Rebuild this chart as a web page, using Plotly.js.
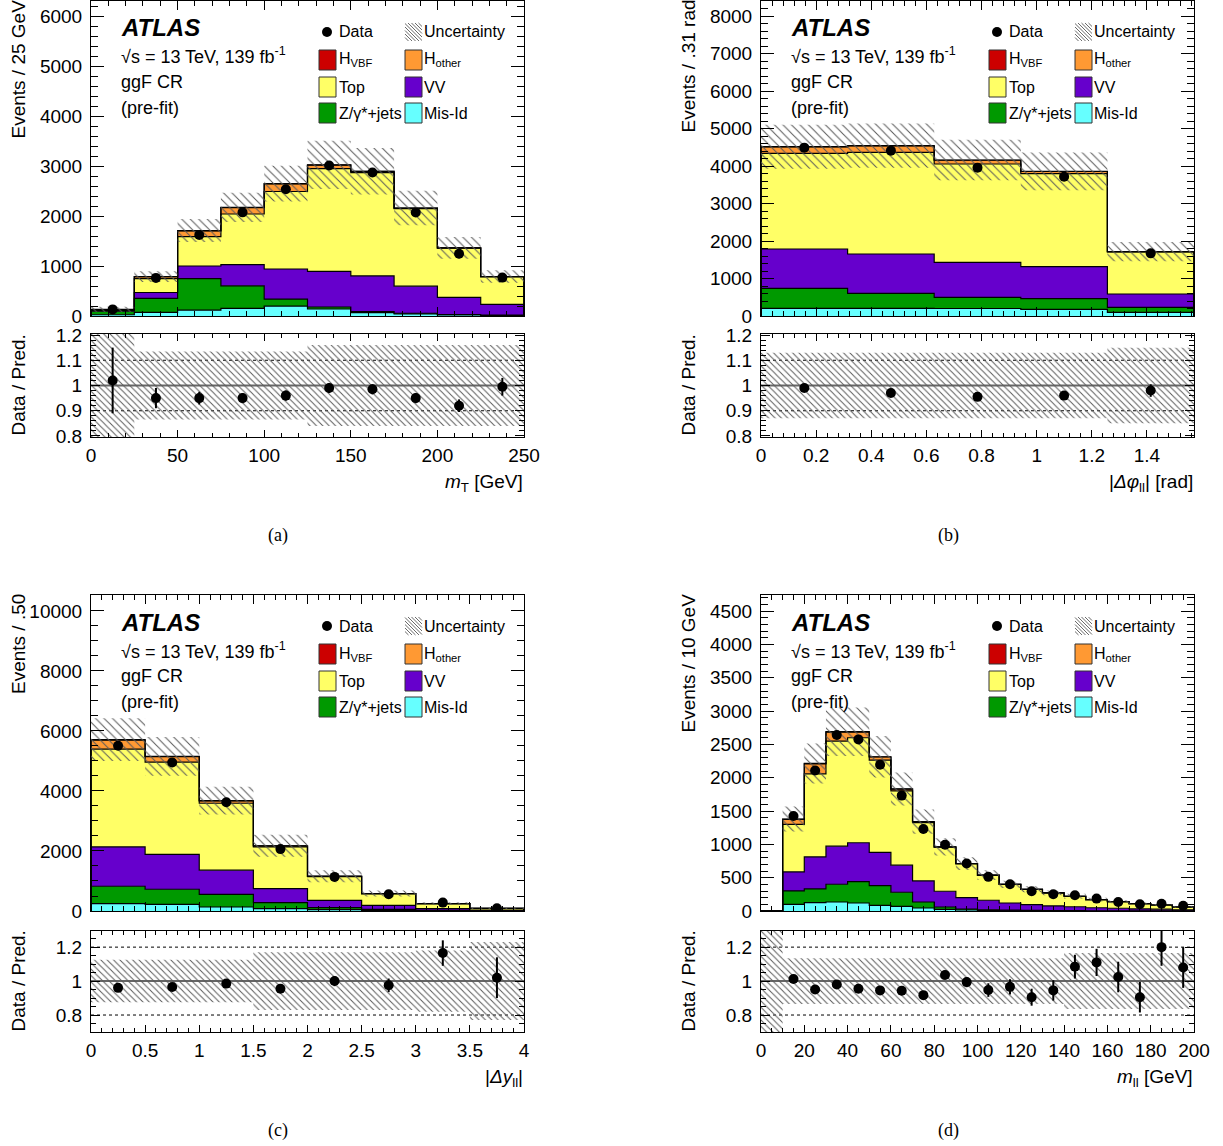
<!DOCTYPE html>
<html><head><meta charset="utf-8">
<script src="https://cdn.plot.ly/plotly-3.0.1.min.js"></script>
<style>html,body{margin:0;padding:0;background:#fff;} #plot{width:1223px;height:1146px;}</style>
</head><body><div id="plot"></div>
<script>
// ---------- Panel (a): mT ----------
const edgesA = [0,25,50,75,100,125,150,175,200,225,250];
const misIdA = [25,73,119,152,199,140,66,40,20,12];
const zjetsA = [70,278,629,451,139,40,20,15,10,8];
const vvA = [15,119,252,423,602,714,715,541,341,212];
const topA = [15,278,589,1014,1550,2053,2066,1550,985,553];
const hOtherA = [5,38,115,127,152,70,25,12,6,3];
const hVbfA = [1,3,5,5,7,6,3,2,2,1];
const dataA = [132,762,1620,2073,2536,3010,2870,2070,1245,768];
const ratioA = [1.02,0.95,0.95,0.95,0.96,0.99,0.985,0.95,0.92,0.995];
const ratioErrA = [0.13,0.04,0.025,0.02,0.02,0.02,0.02,0.02,0.025,0.035];
const uncA = [0.4,0.135,0.135,0.135,0.135,0.16,0.16,0.16,0.16,0.16];

// ---------- Panel (b): |dphi_ll| ----------
const edgesB = [0,0.31416,0.62832,0.94248,1.25664,1.5708];
const misIdB = [204,204,200,178,98];
const zjetsB = [534,400,298,284,133];
const vvB = [1049,1049,933,854,356];
const topB = [2551,2711,2622,2480,1120];
const hOtherB = [170,170,100,57,8];
const hVbfB = [8,8,7,5,1];
const dataB = [4489,4409,3956,3716,1671];
const ratioB = [0.99,0.97,0.955,0.96,0.98];
const ratioErrB = [0.012,0.012,0.013,0.014,0.025];
const uncB = [0.13,0.13,0.13,0.13,0.15];

// ---------- Panel (c): |dy_ll| ----------
const edgesC = [0,0.5,1,1.5,2,2.5,3,3.5,4];
const misIdC = [245,223,134,78,45,20,8,3];
const zjetsC = [580,502,423,201,66,36,12,5];
const vvC = [1315,1159,803,468,246,134,58,22];
const topC = [3256,3077,2230,1390,790,386,165,55];
const hOtherC = [300,180,83,35,10,4,2,1];
const hVbfC = [12,10,6,2,2,1,0,0];
const dataC = [5507,4950,3623,2062,1137,557,280,88];
const ratioC = [0.96,0.965,0.985,0.955,1.0,0.975,1.165,1.02];
const ratioErrC = [0.015,0.015,0.018,0.02,0.03,0.04,0.075,0.12];
const uncC = [0.125,0.125,0.125,0.17,0.17,0.17,0.18,0.23];

// ---------- Panel (d): m_ll ----------
const edgesD = [0,10,20,30,40,50,60,70,80,90,100,110,120,130,140,150,160,170,180,190,200];
const misIdD = [0,100,125,135,120,85,70,45,25,15,10,8,6,5,4,3,3,2,2,1];
const zjetsD = [0,201,206,266,322,296,211,90,35,15,8,5,3,2,2,1,1,1,1,1];
const vvD = [0,286,482,572,582,497,406,317,236,171,143,107,86,70,58,45,37,29,24,16];
const topD = [0,713,1244,1576,1575,1384,1114,873,660,508,374,280,230,194,157,122,99,78,63,42];
const hOtherD = [0,75,150,135,85,48,27,13,6,3,2,1,1,0,0,0,0,0,0,0];
const hVbfD = [0,5,6,6,6,4,3,2,1,0,0,0,0,0,0,0,0,0,0,0];
const dataD = [null,1425,2107,2640,2574,2193,1731,1229,993,712,512,401,296,251,236,186,135,100,110,80];
const ratioD = [null,1.012,0.95,0.98,0.955,0.945,0.943,0.917,1.036,0.994,0.947,0.966,0.905,0.945,1.085,1.11,1.024,0.905,1.2,1.08];
const ratioErrD = [0,0.02,0.02,0.02,0.02,0.02,0.02,0.02,0.025,0.03,0.04,0.045,0.05,0.06,0.07,0.08,0.09,0.09,0.11,0.12];
const uncD = [1.0,0.135,0.135,0.135,0.135,0.135,0.135,0.135,0.135,0.135,0.135,0.135,0.135,0.135,0.165,0.165,0.165,0.165,0.165,0.165];

// ---------- Text ----------
const yTitles = ['Events / 25 GeV','Events / .31 rad','Events / .50','Events / 10 GeV'];
const xTitles = ['<i>m</i><sub>T</sub> [GeV]','|<i>Δφ</i><sub>ll</sub>| [rad]','|<i>Δy</i><sub>ll</sub>|','<i>m</i><sub>ll</sub> [GeV]'];
const panelLabels = ['(a)','(b)','(c)','(d)'];
const compNames = ['Mis-Id','Z/γ*+jets','VV','Top','H<sub>other</sub>','H<sub>VBF</sub>'];
const compColors = ['#66ffff','#009900','#6600cc','#ffff66','#ff9933','#cc0000'];

// ---------- Geometry ----------
const W = 1223, H = 1146;
const PX = x => x / W, PY = y => 1 - y / H;
const FONT = 'Liberation Sans, Arial, Helvetica, sans-serif';

const panels = [
  {edges:edgesA, comps:[misIdA,zjetsA,vvA,topA,hOtherA,hVbfA], data:dataA, ratio:ratioA, rerr:ratioErrA, unc:uncA,
   ox:0, oy:0, xl:91, xr:524, mt:1, mb:316, rt:334, rb:437, yMax:6300, dty:1000, mty:200, dtx:50, mtx:10, rRange:[0.796,1.204], rDt:0.1, rMt:0.02, dots:[1.1,0.9]},
  {edges:edgesB, comps:[misIdB,zjetsB,vvB,topB,hOtherB,hVbfB], data:dataB, ratio:ratioB, rerr:ratioErrB, unc:uncB,
   ox:670, oy:0, xl:761, xr:1194, mt:1, mb:316, rt:334, rb:437, yMax:8400, dty:1000, mty:200, dtx:0.2, mtx:0.04, rRange:[0.796,1.204], rDt:0.1, rMt:0.02, dots:[1.1,0.9]},
  {edges:edgesC, comps:[misIdC,zjetsC,vvC,topC,hOtherC,hVbfC], data:dataC, ratio:ratioC, rerr:ratioErrC, unc:uncC,
   ox:0, oy:594, xl:91, xr:524, mt:595, mb:911, rt:931, rb:1032, yMax:10530, dty:2000, mty:500, dtx:0.5, mtx:0.1, rRange:[0.7,1.295], rDt:0.2, rMt:0.05, dots:[1.2,0.8]},
  {edges:edgesD, comps:[misIdD,zjetsD,vvD,topD,hOtherD,hVbfD], data:dataD, ratio:ratioD, rerr:ratioErrD, unc:uncD,
   ox:670, oy:594, xl:761, xr:1194, mt:595, mb:911, rt:931, rb:1032, yMax:4740, dty:500, mty:100, dtx:20, mtx:5, rRange:[0.7,1.295], rDt:0.2, rMt:0.05, dots:[1.2,0.8]}
];

const traces = [];
const layout = {
  width: W, height: H, margin:{l:0,r:0,t:0,b:0}, paper_bgcolor:'white', plot_bgcolor:'rgba(0,0,0,0)',
  showlegend:false, font:{family:FONT, size:19, color:'black'}, annotations:[], shapes:[]
};

const axBase = {showline:true, linecolor:'black', linewidth:1, mirror:'allticks', ticks:'inside', tickcolor:'black', tickwidth:1,
  showgrid:false, zeroline:false, tickfont:{family:FONT, size:19, color:'black'}, fixedrange:true};

function stepXY(edges, vals, closeZero) {
  const n = vals.length;
  if (closeZero) {
    return {x:[edges[0], ...edges.slice(0,n), edges[n], edges[n]], y:[0, ...vals, vals[n-1], 0]};
  }
  return {x:[...edges], y:[...vals, vals[n-1]]};
}

panels.forEach((p, k) => {
  const i = k*2 + 1;
  const xm = i===1 ? 'x' : 'x'+i, ym = i===1 ? 'y' : 'y'+i;
  const xr = 'x'+(i+1), yr = 'y'+(i+1);
  const n = p.edges.length - 1;
  const centers = p.edges.slice(0,n).map((e,j) => (e + p.edges[j+1]) / 2);

  // stacked backgrounds
  let cum = new Array(n).fill(0);
  p.comps.forEach((c, ci) => {
    cum = cum.map((v,j) => v + c[j]);
    const s = stepXY(p.edges, cum, true);
    traces.push({type:'scatter', mode:'lines', x:s.x, y:s.y, xaxis:xm, yaxis:ym,
      line:{color:'black', width:1.2, shape:'hv'}, fill: ci===0 ? 'tozeroy' : 'tonexty',
      fillcolor: compColors[ci], hoverinfo:'skip'});
  });
  const total = cum;
  // uncertainty band (main)
  const lo = stepXY(p.edges, total.map((t,j) => t*(1-p.unc[j])), false);
  const hi = stepXY(p.edges, total.map((t,j) => t*(1+p.unc[j])), false);
  traces.push({type:'scatter', mode:'lines', x:lo.x, y:lo.y, xaxis:xm, yaxis:ym, line:{width:0, shape:'hv', color:'rgba(0,0,0,0)'}, hoverinfo:'skip'});
  traces.push({type:'scatter', mode:'lines', x:hi.x, y:hi.y, xaxis:xm, yaxis:ym, line:{width:0, shape:'hv', color:'rgba(0,0,0,0)'},
    fill:'tonexty', fillcolor:'rgba(0,0,0,0)',
    fillpattern:{shape:'\\', fgcolor:'#5a5a5a', bgcolor:'rgba(0,0,0,0)', size:6, solidity:0.17}, hoverinfo:'skip'});
  // data
  traces.push({type:'scatter', mode:'markers', x:centers, y:p.data, xaxis:xm, yaxis:ym,
    marker:{color:'black', size:10}, hoverinfo:'skip'});

  // ratio band
  const rlo = stepXY(p.edges, p.unc.map(u => 1-u), false);
  const rhi = stepXY(p.edges, p.unc.map(u => 1+u), false);
  traces.push({type:'scatter', mode:'lines', x:rlo.x, y:rlo.y, xaxis:xr, yaxis:yr, line:{width:0, shape:'hv', color:'rgba(0,0,0,0)'}, hoverinfo:'skip'});
  traces.push({type:'scatter', mode:'lines', x:rhi.x, y:rhi.y, xaxis:xr, yaxis:yr, line:{width:0, shape:'hv', color:'rgba(0,0,0,0)'},
    fill:'tonexty', fillcolor:'rgba(0,0,0,0)',
    fillpattern:{shape:'\\', fgcolor:'#5a5a5a', bgcolor:'rgba(0,0,0,0)', size:4.5, solidity:0.22}, hoverinfo:'skip'});
  traces.push({type:'scatter', mode:'markers', x:centers, y:p.ratio, xaxis:xr, yaxis:yr,
    marker:{color:'black', size:10},
    error_y:{type:'data', array:p.rerr, visible:true, color:'black', thickness:2, width:0}, hoverinfo:'skip'});

  // axes
  const xdom = [PX(p.xl), PX(p.xr)];
  const xRange = [p.edges[0], p.edges[n]];
  const keyXm = i===1 ? 'xaxis' : 'xaxis'+i, keyYm = i===1 ? 'yaxis' : 'yaxis'+i;
  layout[keyXm] = Object.assign({}, axBase, {domain:xdom, anchor:ym, range:xRange, tick0:0, dtick:p.dtx, ticklen:9,
    minor:{ticks:'inside', ticklen:5, dtick:p.mtx, tick0:0, tickcolor:'black', showgrid:false}, showticklabels:false});
  layout[keyYm] = Object.assign({}, axBase, {domain:[PY(p.mb), PY(p.mt)], anchor:xm, range:[0,p.yMax], tick0:0, dtick:p.dty, ticklen:13,
    minor:{ticks:'inside', ticklen:7, dtick:p.mty, tick0:0, tickcolor:'black', showgrid:false}, tickformat:'d', ticklabelstandoff:4});
  layout['xaxis'+(i+1)] = Object.assign({}, axBase, {domain:xdom, anchor:yr, range:xRange, tick0:0, dtick:p.dtx, ticklen:7,
    minor:{ticks:'inside', ticklen:4, dtick:p.mtx, tick0:0, tickcolor:'black', showgrid:false}, ticklabelstandoff:1});
  layout['yaxis'+(i+1)] = Object.assign({}, axBase, {domain:[PY(p.rb), PY(p.rt)], anchor:xr, range:p.rRange, tick0:0, dtick:p.rDt, ticklen:9,
    minor:{ticks:'inside', ticklen:5, dtick:p.rMt, tick0:0, tickcolor:'black', showgrid:false}, ticklabelstandoff:4});

  // ratio reference lines (drawn under traces)
  layout.shapes.push({type:'line', xref:xr, yref:yr, x0:xRange[0], x1:xRange[1], y0:1, y1:1, line:{color:'#666666', width:2}, layer:'below'});
  p.dots.forEach(v => layout.shapes.push({type:'line', xref:xr, yref:yr, x0:xRange[0], x1:xRange[1], y0:v, y1:v, line:{color:'black', width:1, dash:'dot'}, layer:'below'}));

  // text block
  const ox = p.ox, oy = p.oy;
  const ann = (x, y, text, size, extra) => layout.annotations.push(Object.assign({xref:'paper', yref:'paper', x:PX(x), y:PY(y), text:text,
    showarrow:false, xanchor:'left', yanchor:'middle', font:{family:FONT, size:size, color:'black'}}, extra||{}));
  ann(ox+119, oy+28, '<b><i>ATLAS</i></b>', 24);
  ann(ox+119, oy+56, '√s = 13 TeV, 139 fb<sup>-1</sup>', 18);
  ann(ox+119, oy+82, 'ggF CR', 18);
  ann(ox+119, oy+108, '(pre-fit)', 18);

  // legend
  const rows = [32, 60, 87, 113];
  const c1b = 319, c1t = 337, c2b = 405, c2t = 422;
  layout.shapes.push({type:'circle', xref:'paper', yref:'paper', x0:PX(ox+322), x1:PX(ox+332), y0:PY(oy+rows[0]+5), y1:PY(oy+rows[0]-5),
    fillcolor:'black', line:{width:0, color:'black'}});
  ann(ox+c1t, oy+rows[0], 'Data', 16);
  // hatched swatch
  {
    const bx0 = ox+c2b, bx1 = ox+c2b+17, by0 = oy+rows[0]-9, by1 = oy+rows[0]+9;
    let path = '';
    for (let c = bx0 - by1; c <= bx1 - by0; c += 3.5) {
      const xs = Math.max(bx0, c + by0), xe = Math.min(bx1, c + by1);
      if (xe - xs < 0.5) continue;
      path += 'M' + PX(xs).toFixed(5) + ',' + PY(xs - c).toFixed(5) + 'L' + PX(xe).toFixed(5) + ',' + PY(xe - c).toFixed(5);
    }
    layout.shapes.push({type:'path', xref:'paper', yref:'paper', path:path, line:{color:'#6a6a6a', width:1}});
  }
  ann(ox+c2t, oy+rows[0], 'Uncertainty', 16);
  const legItems = [[5,0,1],[4,1,1],[3,0,2],[2,1,2],[1,0,3],[0,1,3]];
  legItems.forEach(([ci, col, r]) => {
    const bx = col===0 ? c1b : c2b;
    layout.shapes.push({type:'rect', xref:'paper', yref:'paper', x0:PX(ox+bx), x1:PX(ox+bx+17), y0:PY(oy+rows[r]+10), y1:PY(oy+rows[r]-10),
      fillcolor:compColors[ci], line:{color:'#333333', width:1}});
    ann(ox+(col===0 ? c1t : c2t), oy+rows[r], compNames[ci], 16);
  });

  // axis titles
  const tfont = {family:FONT, size:19, color:'black'};
  layout.annotations.push({xref:'paper', yref:'paper', x:PX(p.xl-73), y:PY(p.mt-3), text:yTitles[k], textangle:-90,
    showarrow:false, xanchor:'center', yanchor:'top', font:tfont});
  layout.annotations.push({xref:'paper', yref:'paper', x:PX(p.xl-73), y:PY((p.rt+p.rb)/2), text:'Data / Pred.', textangle:-90,
    showarrow:false, xanchor:'center', yanchor:'middle', font:tfont});
  layout.annotations.push({xref:'paper', yref:'paper', x:PX(p.xr+1), y:PY(p.rb+46), text:xTitles[k],
    showarrow:false, xanchor:'right', yanchor:'middle', font:tfont});
  layout.annotations.push({xref:'paper', yref:'paper', x:PX(p.xl+187), y:PY(p.rb+98), text:panelLabels[k],
    showarrow:false, xanchor:'center', yanchor:'middle', font:{family:'Liberation Serif, Times New Roman, serif', size:18, color:'black'}});
});

Plotly.newPlot('plot', traces, layout, {staticPlot:true, displayModeBar:false});
</script>
</body></html>
